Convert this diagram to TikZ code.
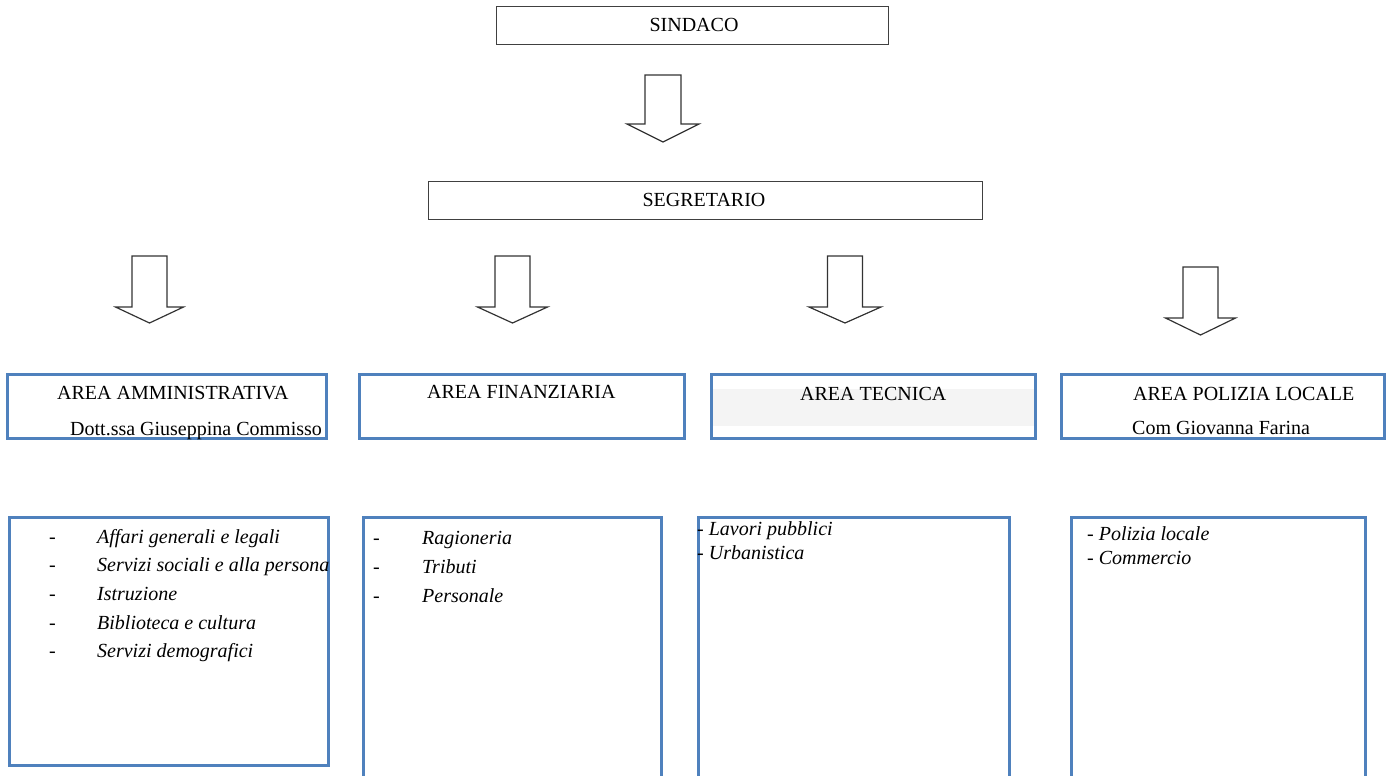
\documentclass[tikz,border=0pt]{standalone}
\usepackage{fontspec}
\setmainfont{Liberation Serif}
\usetikzlibrary{positioning,calc}
\definecolor{areablue}{HTML}{4F81BD}
\definecolor{bandgray}{HTML}{F4F4F4}
\tikzset{
  obox/.style={draw=black!75,line width=1.2pt,fill=white,inner sep=0pt},
  abox/.style={draw=areablue,line width=3pt,fill=white,inner sep=0pt},
  blk/.style={draw=black!80,line width=1.2pt,line join=miter},
  ttxt/.style={anchor=base,inner sep=0pt,font=\fontsize{20}{24}\selectfont},
  ltxt/.style={anchor=base west,inner sep=0pt,font=\fontsize{20}{24}\selectfont},
  itxt/.style={anchor=base west,inner sep=0pt,font=\fontsize{20}{24}\selectfont\itshape}
}

\begin{document}
\begin{tikzpicture}[x=1pt,y=-1pt]
  \useasboundingbox (0,0) rectangle (1389,776);
  \clip (0,0) rectangle (1389,776);
  % top boxes
  \node[obox,minimum width=392pt,minimum height=38pt] (sindaco) at (692.5,25.5) {};
  \node[ttxt] (sindacot) at (694,32) {SINDACO};
  \node[obox,minimum width=554pt,minimum height=38pt] (segretario) at (705.5,200.5) {};
  \node[ttxt] (segretariot) at (704,206) {SEGRETARIO};
  % block arrows
  \foreach \cx/\ty/\sw/\hw/\sb/\tp in {663/75/18/36/124/142,
      149.5/256/17.5/34/307/323, 512.5/256/17.5/35/307/323,
      845/256/17.5/36/307/323, 1200.5/267/17.5/35/318/335}{
    \draw[blk] (\cx-\sw,\ty) -- (\cx+\sw,\ty) -- (\cx+\sw,\sb) -- (\cx+\hw,\sb)
      -- (\cx,\tp) -- (\cx-\hw,\sb) -- (\cx-\sw,\sb) -- cycle;
  }
  % area boxes
  \node[abox,minimum width=319pt,minimum height=64pt] (aammin) at (167,406.5) {};
  \node[abox,minimum width=325pt,minimum height=64pt] (afin) at (522,406.5) {};
  \node[abox,minimum width=324pt,minimum height=64pt] (atec) at (873.5,406.5) {};
  \node[abox,minimum width=323pt,minimum height=64pt] (apol) at (1223,406.5) {};
  \fill[bandgray] (713,389) rectangle (1034,426);
  \node[ltxt] (aammint) at (57,399) {AREA AMMINISTRATIVA};
  \node[ltxt] (aamminr) at (70,435) {Dott.ssa Giuseppina Commisso};
  \node[ltxt] (afint) at (427,398) {AREA FINANZIARIA};
  \node[ltxt] (atect) at (800,400) {AREA TECNICA};
  \node[ltxt] (apolt) at (1133,400) {AREA POLIZIA LOCALE};
  \node[ltxt] (apolr) at (1132,434) {Com Giovanna Farina};
  % list boxes
  \node[abox,minimum width=319pt,minimum height=248pt] (lammin) at (169,641.5) {};
  \node[abox,minimum width=298pt,minimum height=282pt] (lfin) at (512.5,658.75) {};
  \node[abox,minimum width=311pt,minimum height=282pt] (ltec) at (854,658.75) {};
  \node[abox,minimum width=294pt,minimum height=282pt] (lpol) at (1218.5,658.75) {};
  \foreach \t [count=\i from 0] in {Affari generali e legali,Servizi sociali e alla persona,
      Istruzione,Biblioteca e cultura,Servizi demografici}{
    \node[ltxt] (amd\i) at (49,543+28.7*\i) {-};
    \node[itxt] (ami\i) at (97,543+28.7*\i) {\t};
  }
  \foreach \t [count=\i from 0] in {Ragioneria,Tributi,Personale}{
    \node[ltxt] (fid\i) at (373,544+29*\i) {-};
    \node[itxt] (fii\i) at (422,544+29*\i) {\t};
  }
  \node[ltxt] (tei0) at (697,535) {- \textit{Lavori pubblici}};
  \node[ltxt] (tei1) at (697,559) {- \textit{Urbanistica}};
  \node[ltxt] (poi0) at (1087,540) {- \textit{Polizia locale}};
  \node[ltxt] (poi1) at (1087,564) {- \textit{Commercio}};
\end{tikzpicture}
\end{document}
